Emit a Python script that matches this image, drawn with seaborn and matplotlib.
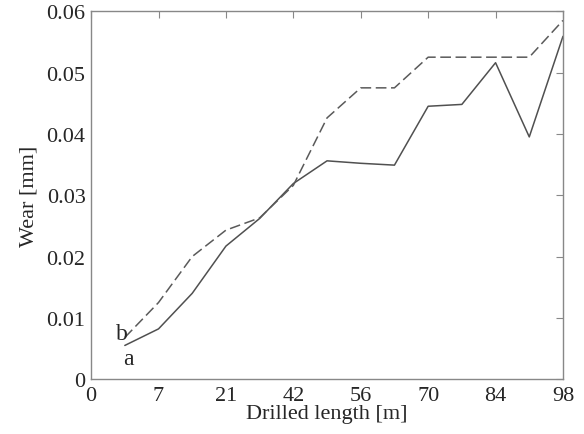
import numpy as np
import pandas as pd
import matplotlib
matplotlib.use("Agg")
import matplotlib.pyplot as plt
import seaborn as sns

# x positions are equally spaced steps; the axis labels are the drilled lengths
step = [1, 2, 3, 4, 5, 6, 7, 8, 9, 10, 11, 12, 13, 14]
wear_a = [0.0055, 0.0082, 0.0140, 0.0217, 0.0262, 0.0319, 0.0356, 0.0352,
          0.0349, 0.0445, 0.0448, 0.0516, 0.0395, 0.0559]
wear_b = [0.0068, 0.0125, 0.0200, 0.0243, 0.0263, 0.0316, 0.0426, 0.0475,
          0.0475, 0.0525, 0.0525, 0.0525, 0.0525, 0.0585]

x_tick_pos = [0, 2, 4, 6, 8, 10, 12, 14]
x_tick_labels = ["0", "7", "21", "42", "56", "70", "84", "98"]
y_ticks = [0, 0.01, 0.02, 0.03, 0.04, 0.05, 0.06]
y_tick_labels = ["0", "0.01", "0.02", "0.03", "0.04", "0.05", "0.06"]

sns.set_style("white")
plt.rcParams["font.family"] = ["Liberation Serif", "DejaVu Serif"]

fig = plt.figure(figsize=(5.84, 4.35), dpi=100)
ax = fig.add_axes([0.156, 0.126, 0.808, 0.846])

df_a = pd.DataFrame({"x": step, "y": wear_a})
df_b = pd.DataFrame({"x": step, "y": wear_b})
sns.lineplot(data=df_a, x="x", y="y", ax=ax, color="#505050", linewidth=1.1)
sns.lineplot(data=df_b, x="x", y="y", ax=ax, color="#5a5a5a", linewidth=1.1,
             dashes=False, linestyle=(0, (7, 3)))

ax.set_xlim(0, 14)
ax.set_ylim(0, 0.06)
ax.set_xticks(x_tick_pos)
ax.set_xticklabels(x_tick_labels)
ax.set_yticks(y_ticks)
ax.set_yticklabels(y_tick_labels)
ax.tick_params(direction="in", top=True, right=True, length=5, width=0.8,
               color="#888888", labelsize=16)
ax.tick_params(axis="x", pad=5)
ax.tick_params(axis="y", pad=4)
for s in ax.spines.values():
    s.set_color("#888888")
    s.set_linewidth(1.0)

ax.set_xlabel("Drilled length [m]", fontsize=16, labelpad=-1)
ax.set_ylabel("Wear [mm]", fontsize=16, labelpad=6)

ax.text(0.92, 0.0075, "b", fontsize=17, ha="center", va="center")
ax.text(1.1, 0.0033, "a", fontsize=17, ha="center", va="center")

fig.savefig("out.png", dpi=100)
